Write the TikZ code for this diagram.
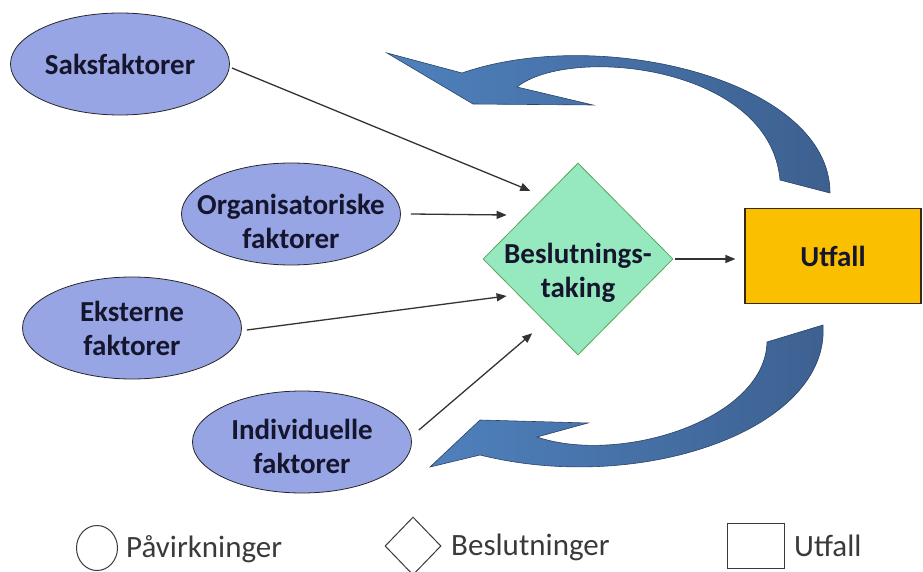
\documentclass[tikz,border=0pt]{standalone}
\usepackage{fontspec}
\setmainfont{Carlito}
\usepackage{tikz}
\usetikzlibrary{arrows.meta,shapes.geometric,calc}
\usepackage{xcolor}
\definecolor{factorblue}{HTML}{98A5E4}
\definecolor{decisiongreen}{HTML}{96E8BE}
\definecolor{outcomeyellow}{HTML}{FAC000}
\definecolor{loopblue}{HTML}{4F81BD}
\definecolor{loopdark}{HTML}{3D6090}
\definecolor{textnavy}{HTML}{15152E}
\definecolor{arrowgray}{HTML}{333333}
\definecolor{legendgray}{HTML}{3A3A3A}
\newcommand{\bigbold}{\fontsize{29}{34}\selectfont\bfseries}
\newcommand{\bigplain}{\fontsize{31}{36}\selectfont}

\begin{document}
\begin{tikzpicture}[
    x=1pt, y=-1pt,
    >={Triangle[length=10pt,width=8pt]},
    factor/.style={ellipse, draw=black!85, line width=0.8pt, fill=factorblue, minimum width=219pt, minimum height=102pt, inner xsep=-20pt, inner ysep=-6pt, align=center, text=textnavy, font=\bigbold},
    decision/.style={diamond, draw=gray!70!green, line width=0.8pt, fill=decisiongreen, minimum width=190pt, minimum height=192pt, inner sep=-16pt, align=center, text=textnavy, font=\bigbold},
    outcome/.style={rectangle, draw=black!70!brown, line width=1.2pt, fill=outcomeyellow, minimum width=176pt, minimum height=95pt, text=textnavy, font=\bigbold},
    arrow/.style={->, line width=1.3pt, draw=arrowgray},
    loop/.style={draw=loopdark!70!black, line width=0.6pt, left color=loopblue, middle color=loopblue, right color=loopdark},
    legendshape/.style={draw=legendgray, line width=1pt, inner sep=0pt},
    legendtext/.style={anchor=west, inner sep=0pt, text=legendgray, font=\bigplain}
]
\useasboundingbox (0,0) rectangle (923,572);

% ---- Influences ----
\node[factor] (saks) at (120,64) {Saksfaktorer};
\node[factor, text height=69pt] (org) at (291,214) {Organisatoriske\\faktorer};
\node[factor] (eks) at (132,328) {Eksterne\\faktorer};
\node[factor, text height=63pt] (indiv) at (302,442) {Individuelle\\faktorer};

% ---- Decision and outcome ----
\node[decision, text height=81pt] (dec) at (578,259) {Beslutnings-\\taking};
\node[outcome] (out) at (833,256) {Utfall};

% ---- Feedback loops ----
\draw[loop] (387,53) -- (473,104) -- (593,105) -- (517,87)
    .. controls (570,45) and (770,65) .. (780,180) -- (830,193)
    .. controls (830,80) and (600,25) .. (462,73) -- cycle;
\draw[loop] (430,467) -- (480,420) -- (588,423) -- (537,437)
    .. controls (620,465) and (765,420) .. (767,342) -- (823,325)
    .. controls (830,430) and (640,495) .. (480,455) -- cycle;

% ---- Influence arrows ----
\draw[arrow] ([shift={(2,4)}]saks.east) -- ([shift={(0,-20)}]dec.north west);
\draw[arrow] ([shift={(10,0)}]org.east) -- ([shift={(24,-44)}]dec.west);
\draw[arrow] ([shift={(5,2)}]eks.east) -- ([shift={(24,37)}]dec.west);
\draw[arrow] ([shift={(7,-12)}]indiv.east) -- ([shift={(2,26)}]dec.south west);
\draw[arrow, shorten <=2pt, shorten >=9pt] (dec.east) -- (dec.east -| out.west);

% ---- Legend ----
\node[legendshape, ellipse, minimum width=41pt, minimum height=45pt] (legcirc) at (97,548) {};
\node[legendtext] (legcirctext) at (126,549) {Påvirkninger};
\node[legendshape, diamond, minimum width=56pt, minimum height=58pt] (legdia) at (413,546) {};
\node[legendtext] (legdiatext) at (451,547) {Beslutninger};
\node[legendshape, minimum width=57pt, minimum height=45pt] (legbox) at (756,546) {};
\node[legendtext] (legboxtext) at (794,546) {Utfall};

\end{tikzpicture}
\end{document}
